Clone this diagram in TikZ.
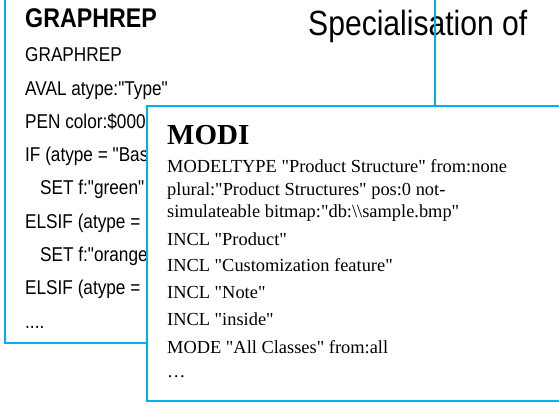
\documentclass[tikz,border=0pt]{standalone}
\usepackage{fontspec}
\setmainfont{Liberation Serif}[Ligatures=TeXOff]
\newfontfamily\grfont{Liberation Sans}[FakeStretch=0.86, Ligatures=TeXOff]
\definecolor{framecol}{RGB}{0,176,240}

\begin{document}
\begin{tikzpicture}[
  x=1pt, y=-1pt,
  frame/.style={draw=framecol, line width=2pt},
  grtitle/.style={anchor=base west, inner sep=0pt, font=\grfont\bfseries\fontsize{27}{30}\selectfont},
  grline/.style={anchor=base west, inner sep=0pt, font=\grfont\fontsize{20}{24}\selectfont},
  spectext/.style={anchor=base west, inner sep=0pt, font=\grfont\fontsize{35}{40}\selectfont},
  modititle/.style={anchor=base west, inner sep=0pt, font=\bfseries\fontsize{29}{32}\selectfont},
  modiline/.style={anchor=base west, inner sep=0pt, font=\fontsize{18.4}{22}\selectfont}
]
\useasboundingbox (0,0) rectangle (559,403);

% Heading
\node[spectext] (spec) at (308,36) {Specialisation of};

% GRAPHREP box
\draw[frame] (5,-10) rectangle (435,343);
\node[grtitle] (grtitle) at (25,28) {GRAPHREP};
\node[grline] (gr1) at (25,62) {GRAPHREP};
\node[grline] (gr2) at (25,95.25) {AVAL atype:"Type"};
\node[grline] (gr3) at (25,128.5) {PEN color:\$000};
\node[grline] (gr4) at (25,161.75) {IF (atype = "Bas};
\node[grline] (gr5) at (40,195) {SET f:"green"};
\node[grline] (gr6) at (25,228.25) {ELSIF (atype =};
\node[grline] (gr7) at (40,261.5) {SET f:"orange};
\node[grline] (gr8) at (25,294.75) {ELSIF (atype =};
\node[grline] (gr9) at (25,328) {....};

% MODI box on top
\draw[frame, fill=white] (147,106) rectangle (575,401);
\node[modititle] (mtitle) at (167,145) {MODI};
\node[modiline] (m1) at (167,173) {MODELTYPE "Product Structure" from:none};
\node[modiline] (m2) at (167,196) {plural:"Product Structures" pos:0 not-};
\node[modiline] (m3) at (167,218) {simulateable bitmap:"db:\textbackslash\textbackslash sample.bmp"};
\node[modiline] (m4) at (167,245) {INCL "Product"};
\node[modiline] (m5) at (167,272) {INCL "Customization feature"};
\node[modiline] (m6) at (167,298) {INCL "Note"};
\node[modiline] (m7) at (167,325) {INCL "inside"};
\node[modiline] (m8) at (167,353) {MODE "All Classes" from:all};
\node[modiline] (m9) at (167,377) {\dots};

\end{tikzpicture}
\end{document}
